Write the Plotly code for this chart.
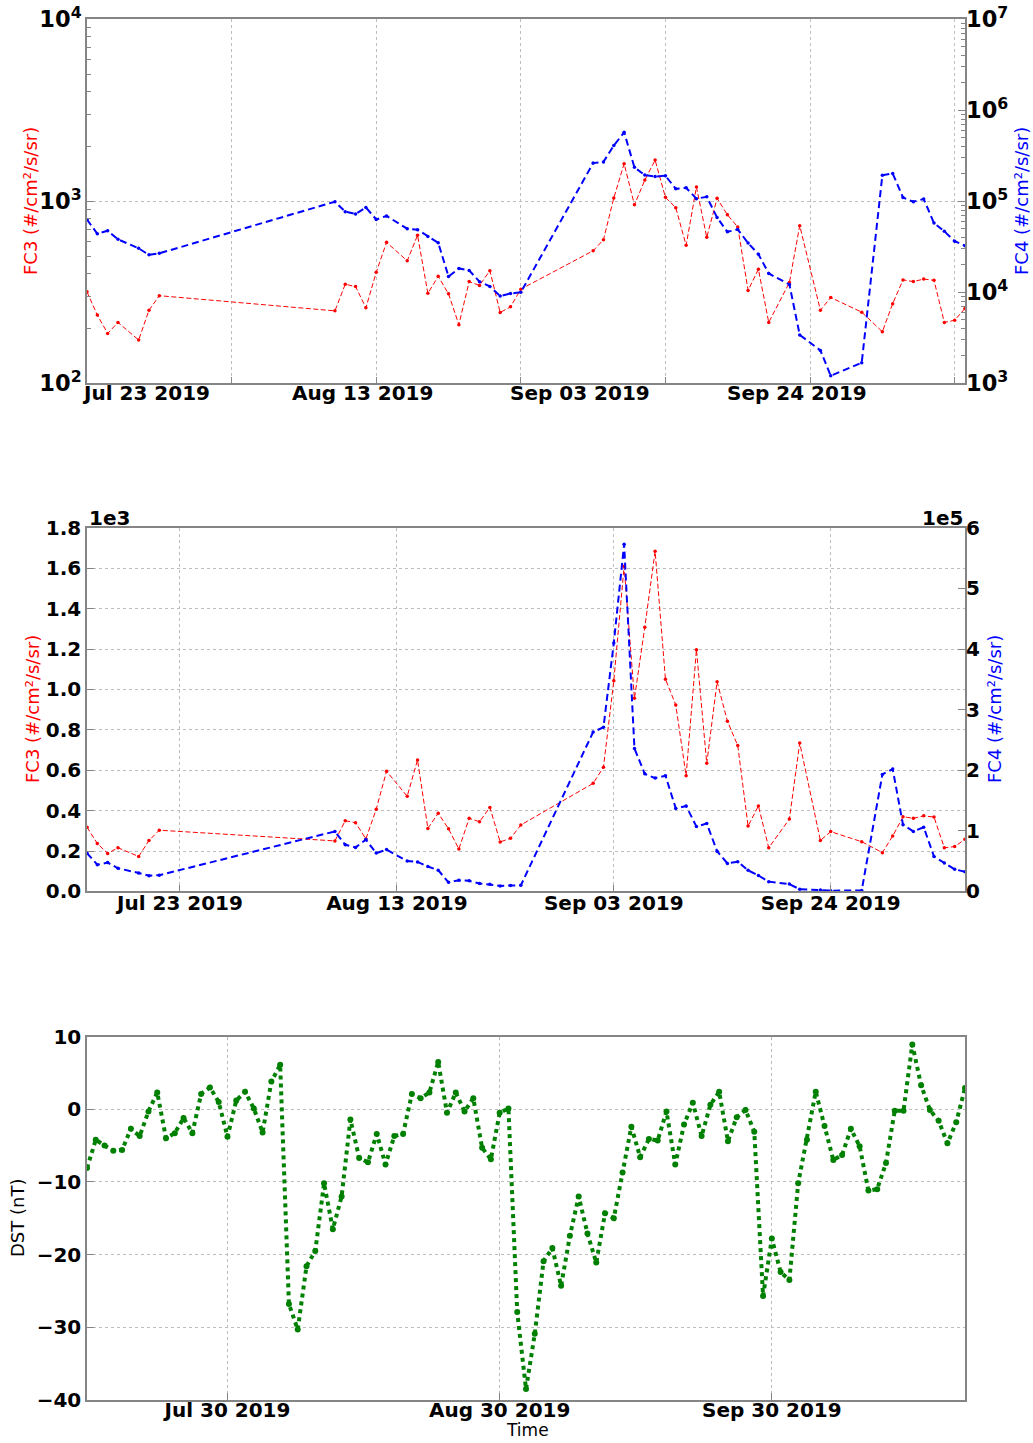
import plotly.graph_objects as go
import pandas as pd

# ---------------- data ----------------
# FC3 / FC4 daily flux samples (same timestamps for both channels)
fc_dates = [
    "2019-07-14", "2019-07-15", "2019-07-16", "2019-07-17", "2019-07-19", "2019-07-20", "2019-07-21",
    "2019-08-07", "2019-08-08", "2019-08-09", "2019-08-10", "2019-08-11", "2019-08-12", "2019-08-14",
    "2019-08-15", "2019-08-16", "2019-08-17", "2019-08-18", "2019-08-19", "2019-08-20", "2019-08-21",
    "2019-08-22", "2019-08-23", "2019-08-24", "2019-08-25",
    "2019-09-01", "2019-09-02", "2019-09-03", "2019-09-04", "2019-09-05", "2019-09-06", "2019-09-07",
    "2019-09-08", "2019-09-09", "2019-09-10", "2019-09-11", "2019-09-12", "2019-09-13", "2019-09-14",
    "2019-09-15", "2019-09-16", "2019-09-17", "2019-09-18", "2019-09-20", "2019-09-21", "2019-09-23",
    "2019-09-24", "2019-09-27", "2019-09-29", "2019-09-30", "2019-10-01", "2019-10-02", "2019-10-03",
    "2019-10-04", "2019-10-05", "2019-10-06", "2019-10-07",
]

fc3 = [
    318, 237, 188, 216, 173, 252, 303,
    250, 350, 340, 260, 407, 595, 471,
    651, 312, 387, 310, 210, 362, 345,
    416, 245, 263, 329,
    535, 615, 1043, 1610, 956, 1308, 1684,
    1051, 923, 573, 1197, 634, 1038, 843,
    722, 324, 423, 216, 358, 735, 252,
    296, 246, 192, 274, 370, 362, 374,
    368, 216, 222, 258,
]

fc4 = [
    63000, 44000, 47500, 38200, 30400, 25800, 26800,
    99000, 77000, 72600, 85500, 63200, 69000, 50000,
    48700, 41000, 35000, 14900, 18300, 17400, 13100,
    11600, 9100, 9700, 10000,
    263000, 271000, 410000, 573000, 236000, 194000, 187000,
    191000, 137000, 141000, 107000, 112000, 66400, 46200,
    49100, 34800, 26200, 16100, 12200, 3400, 2300,
    1210, 1680, 193000, 202000, 110000, 99000, 106000,
    57600, 46800, 36500, 32500,
]

# Daily DST index, 2019-07-14 .. 2019-10-22
dst_start = "2019-07-14"
dst = [
    -8.1, -4.2, -5.0, -5.7, -5.6, -2.7, -3.7, -0.3, 2.3, -4.0,
    -3.3, -1.2, -3.3, 2.1, 3.0, 1.0, -3.8, 1.2, 2.4, 0.1,
    -3.2, 3.8, 6.1, -26.8, -30.3, -21.6, -19.5, -10.2, -16.5, -12.0,
    -1.4, -6.7, -7.3, -3.4, -7.6, -3.7, -3.4, 2.1, 1.5, 2.3,
    6.5, -0.5, 2.3, -0.3, 1.5, -5.3, -6.9, -0.5, 0.1, -27.9,
    -38.5, -30.9, -20.9, -19.1, -24.3, -17.4, -12.0, -17.1, -21.1, -14.3,
    -15.0, -8.7, -2.4, -6.6, -4.1, -4.3, -0.3, -7.6, -2.1, 0.9,
    -3.7, 0.6, 2.4, -4.4, -1.1, -0.1, -3.1, -25.7, -17.8, -22.4,
    -23.5, -10.2, -4.2, 2.4, -2.3, -7.0, -6.3, -2.7, -5.1, -11.2,
    -11.0, -7.4, -0.2, -0.2, 8.9, 3.3, -0.1, -1.6, -4.7, -1.8,
    2.9,
]

# tick positions / labels
top_grid_dates = ["2019-07-14", "2019-07-28", "2019-08-11", "2019-08-25",
                  "2019-09-08", "2019-09-22", "2019-10-06"]
fc_label_dates = ["2019-07-23", "2019-08-13", "2019-09-03", "2019-09-24"]
dst_label_dates = ["2019-07-30", "2019-08-30", "2019-09-30"]
fc3_lin_ticks = [0, 200, 400, 600, 800, 1000, 1200, 1400, 1600, 1800]
fc3_lin_text = ["0.0", "0.2", "0.4", "0.6", "0.8", "1.0", "1.2", "1.4", "1.6", "1.8"]
fc4_lin_ticks = [0, 100000, 200000, 300000, 400000, 500000, 600000]
fc4_lin_text = ["0", "1", "2", "3", "4", "5", "6"]

dst_dates = pd.date_range(dst_start, periods=len(dst), freq="D")

# ---------------- style ----------------
W, H = 1033, 1443
ML, MR = 87, 68


def py(y):
    """pixel row -> paper fraction"""
    return 1 - y / H


def px(x):
    """pixel column -> paper fraction"""
    return (x - ML) / (W - ML - MR)


BOLD = dict(family="DejaVu Sans", size=20, color="black", weight="bold")
BOLD_LOG = dict(BOLD, size=18)
LABEL = dict(family="DejaVu Sans", size=18)
FRAME = "#858585"
GRID = "#bdbdbd"

RED, BLUE, GREEN = "#ff0000", "#0000ff", "#008000"

d1 = [py(383.3), py(19.3)]
d2 = [py(891.4), py(527.9)]
d3 = [py(1400), py(1036.5)]

fig = go.Figure()

# panel 1: log scales
fig.add_trace(go.Scatter(x=fc_dates, y=fc3, xaxis="x", yaxis="y", mode="lines+markers",
                         line=dict(color=RED, width=1, dash="5px,2.5px"),
                         marker=dict(color=RED, size=3.5), showlegend=False))
fig.add_trace(go.Scatter(x=fc_dates, y=fc4, xaxis="x", yaxis="y2", mode="lines+markers",
                         line=dict(color=BLUE, width=2, dash="7px,4px"),
                         marker=dict(color=BLUE, size=3.5), showlegend=False))
# panel 2: linear scales
fig.add_trace(go.Scatter(x=fc_dates, y=fc3, xaxis="x2", yaxis="y3", mode="lines+markers",
                         line=dict(color=RED, width=1, dash="5px,2.5px"),
                         marker=dict(color=RED, size=3.5), showlegend=False))
fig.add_trace(go.Scatter(x=fc_dates, y=fc4, xaxis="x2", yaxis="y4", mode="lines+markers",
                         line=dict(color=BLUE, width=2, dash="7px,4px"),
                         marker=dict(color=BLUE, size=3.5), showlegend=False))
# panel 3: DST
fig.add_trace(go.Scatter(x=dst_dates, y=dst, xaxis="x3", yaxis="y5", mode="lines+markers",
                         line=dict(color=GREEN, width=4, dash="4px,4px"),
                         marker=dict(color=GREEN, size=6), showlegend=False))

axis_common = dict(showline=True, linecolor=FRAME, linewidth=1.5, mirror=True,
                   ticks="inside", ticklen=7, tickcolor=FRAME, tickfont=BOLD,
                   gridcolor=GRID, griddash="dot", gridwidth=1, zeroline=False)

fc_range = [fc_dates[0], fc_dates[-1]]

fig.update_layout(
    width=W, height=H,
    margin=dict(l=ML, r=MR, t=0, b=0, autoexpand=False),
    paper_bgcolor="white", plot_bgcolor="white",
    font=dict(family="DejaVu Sans"),
    xaxis=dict(axis_common, domain=[0, 1], anchor="y", type="date", range=fc_range,
               tickmode="array", tickvals=top_grid_dates, showticklabels=False, showgrid=True),
    yaxis=dict(axis_common, domain=d1, anchor="x", type="log", range=[2, 4], dtick=1,
               exponentformat="power", showgrid=True, tickfont=BOLD_LOG,
               minor=dict(ticks="inside", ticklen=4, tickcolor=FRAME, showgrid=False)),
    yaxis2=dict(axis_common, overlaying="y", side="right", anchor="x", type="log", range=[3, 7],
                dtick=1, exponentformat="power", showgrid=False, showline=False, mirror=False,
                tickfont=BOLD_LOG,
                minor=dict(ticks="inside", ticklen=4, tickcolor=FRAME, showgrid=False)),
    xaxis2=dict(axis_common, domain=[0, 1], anchor="y3", type="date", range=fc_range,
                tickmode="array", tickvals=fc_label_dates, tickformat="%b %d %Y", showgrid=True,
                ticklabelstandoff=-7),
    yaxis3=dict(axis_common, domain=d2, anchor="x2", range=[0, 1800], tickmode="array",
                tickvals=fc3_lin_ticks, ticktext=fc3_lin_text, showgrid=True),
    yaxis4=dict(axis_common, overlaying="y3", side="right", anchor="x2", range=[0, 600000],
                tickmode="array", tickvals=fc4_lin_ticks, ticktext=fc4_lin_text,
                showgrid=False, showline=False, mirror=False),
    xaxis3=dict(axis_common, domain=[0, 1], anchor="y5", type="date",
                range=[dst_dates[0], dst_dates[-1]], tickmode="array",
                tickvals=dst_label_dates, tickformat="%b %d %Y", showgrid=True,
                ticklabelstandoff=-9),
    yaxis5=dict(axis_common, domain=d3, anchor="x3", range=[-40, 10], dtick=10, showgrid=True),
)

ann = []
# panel 1 date labels
for d in fc_label_dates:
    ann.append(dict(x=d, xref="x", y=py(393), yref="paper",
                    text=pd.Timestamp(d).strftime("%b %d %Y"),
                    xanchor="center", yanchor="middle", xshift=-34, font=BOLD))
# axis titles
ann += [
    dict(x=px(30), y=py(201), text="FC3 (#/cm²/s/sr)", textangle=-90,
         font=dict(LABEL, color=RED)),
    dict(x=px(1021), y=py(201), text="FC4 (#/cm²/s/sr)", textangle=-90,
         font=dict(LABEL, color=BLUE)),
    dict(x=px(33), y=py(709), text="FC3 (#/cm²/s/sr)", textangle=-90,
         font=dict(LABEL, color=RED)),
    dict(x=px(995), y=py(709), text="FC4 (#/cm²/s/sr)", textangle=-90,
         font=dict(LABEL, color=BLUE)),
    dict(x=px(17), y=py(1218), text="DST (nT)", textangle=-90,
         font=dict(LABEL, color="black")),
    dict(x=px(527), y=py(1442), text="Time", yanchor="bottom",
         font=dict(LABEL, color="black", size=17)),
    dict(x=0, y=d2[1], text="1e3", xanchor="left", yanchor="bottom", yshift=-4, font=BOLD),
    dict(x=1, y=d2[1], text="1e5", xanchor="right", yanchor="bottom", yshift=-4, font=BOLD),
]
for a in ann:
    a.setdefault("xref", "paper")
    a.setdefault("yref", "paper")
    a.setdefault("xanchor", "center")
    a.setdefault("yanchor", "middle")
    a.setdefault("showarrow", False)
fig.update_layout(annotations=ann)

fig.write_html("out.html")
